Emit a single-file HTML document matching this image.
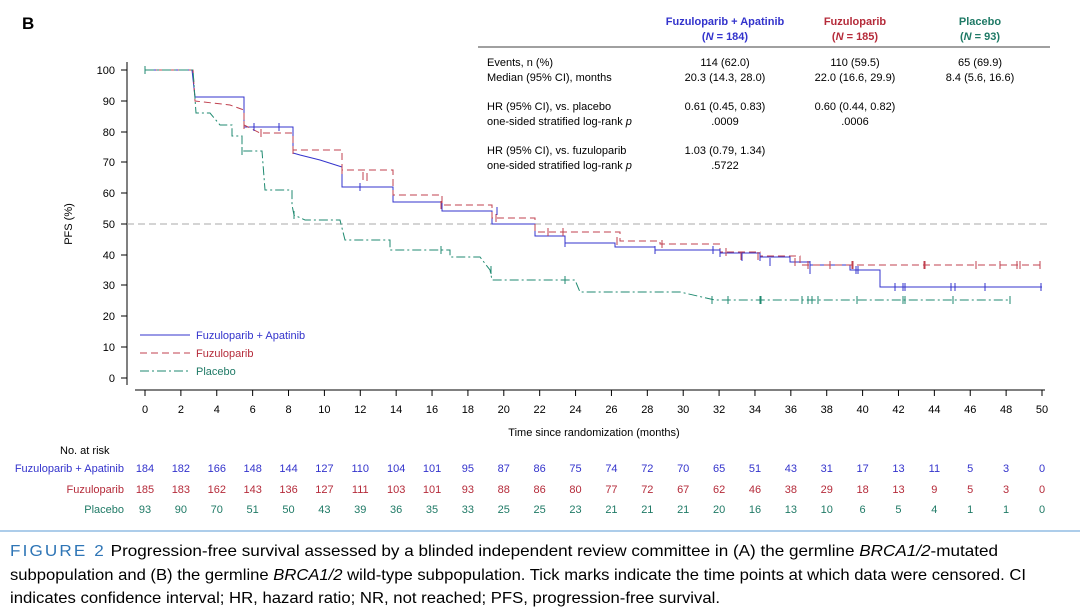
<html><body style="margin:0;background:#fff;width:1080px;height:614px;overflow:hidden;font-family:'Liberation Sans',Arial,sans-serif">
<svg width="1080" height="614" xmlns="http://www.w3.org/2000/svg" font-family="Liberation Sans, Arial, sans-serif">
<text x="22" y="29" font-size="17" font-weight="bold">B</text>
<g font-size="11" text-anchor="middle" font-weight="bold">
<text x="725" y="25" fill="#3333cc">Fuzuloparib + Apatinib</text><text x="725" y="40" fill="#3333cc">(<tspan font-style="italic">N</tspan> = 184)</text>
<text x="855" y="25" fill="#b52b3a">Fuzuloparib</text><text x="855" y="40" fill="#b52b3a">(<tspan font-style="italic">N</tspan> = 185)</text>
<text x="980" y="25" fill="#1f7a66">Placebo</text><text x="980" y="40" fill="#1f7a66">(<tspan font-style="italic">N</tspan> = 93)</text>
</g>
<line x1="478" y1="47" x2="1050" y2="47" stroke="#000" stroke-width="0.8"/>
<g font-size="11">
<text x="487" y="66">Events, n (%)</text><text x="487" y="81">Median (95% CI), months</text>
<text x="487" y="110">HR (95% CI), vs. placebo</text><text x="487" y="125">one-sided stratified log-rank <tspan font-style="italic">p</tspan></text>
<text x="487" y="154">HR (95% CI), vs. fuzuloparib</text><text x="487" y="169">one-sided stratified log-rank <tspan font-style="italic">p</tspan></text>
</g>
<g font-size="11" text-anchor="middle">
<text x="725" y="66">114 (62.0)</text><text x="725" y="81">20.3 (14.3, 28.0)</text>
<text x="725" y="110">0.61 (0.45, 0.83)</text><text x="725" y="125">.0009</text>
<text x="725" y="154">1.03 (0.79, 1.34)</text><text x="725" y="169">.5722</text>
<text x="855" y="66">110 (59.5)</text><text x="855" y="81">22.0 (16.6, 29.9)</text>
<text x="855" y="110">0.60 (0.44, 0.82)</text><text x="855" y="125">.0006</text>
<text x="980" y="66">65 (69.9)</text><text x="980" y="81">8.4 (5.6, 16.6)</text>
</g>
<line x1="127" y1="62" x2="127" y2="385" stroke="#000"/>
<line x1="135" y1="390" x2="1045" y2="390" stroke="#000"/>
<g font-size="11" text-anchor="end">
<text x="115" y="74">100</text><text x="115" y="105">90</text><text x="115" y="136">80</text><text x="115" y="166">70</text><text x="115" y="197">60</text><text x="115" y="228">50</text><text x="115" y="259">40</text><text x="115" y="289">30</text><text x="115" y="320">20</text><text x="115" y="351">10</text><text x="115" y="382">0</text>
</g>
<g stroke="#000"><line x1="121" y1="70" x2="127" y2="70"/><line x1="121" y1="101" x2="127" y2="101"/><line x1="121" y1="132" x2="127" y2="132"/><line x1="121" y1="162" x2="127" y2="162"/><line x1="121" y1="193" x2="127" y2="193"/><line x1="121" y1="224" x2="127" y2="224"/><line x1="121" y1="255" x2="127" y2="255"/><line x1="121" y1="285" x2="127" y2="285"/><line x1="121" y1="316" x2="127" y2="316"/><line x1="121" y1="347" x2="127" y2="347"/><line x1="121" y1="378" x2="127" y2="378"/></g>
<text transform="translate(72,224) rotate(-90)" font-size="11" text-anchor="middle">PFS (%)</text>
<g id="xt" font-size="11" text-anchor="middle"></g>
<text x="594" y="436" font-size="11" text-anchor="middle">Time since randomization (months)</text>
<line x1="127" y1="224" x2="1050" y2="224" stroke="#aaa" stroke-dasharray="7,4"/>
<polyline fill="none" stroke="#3333cc" stroke-width="1" points="145,70 192,70 195,97 244,97 244,127 293,127 293,153 300,155 320,160 342,167 342,187 393,187 393,202 442,202 442,211 492,211 492,224 535,224 535,236 565,236 565,243 615,243 615,247 655,247 655,250 720,250 720,253 760,253 760,257 790,257 790,262 810,262 810,265 850,265 850,270 880,270 880,287 1042,287"/>
<polyline fill="none" stroke="#c0404f" stroke-width="1" stroke-dasharray="7,4" points="145,70 193,70 195,101 230,105 244,110 244,125 260,133 293,133 293,150 342,150 342,170 393,170 393,195 442,195 442,205 492,205 492,218 535,218 535,232 620,232 620,241 660,241 660,244 720,244 720,252 760,252 760,256 800,256 800,265 1042,265"/>
<polyline fill="none" stroke="#1f8a70" stroke-width="1" stroke-dasharray="9,3,2,3" points="145,70 193,70 196,113 210,113 220,125 232,125 232,136 242,136 242,151 262,151 265,190 292,190 292,205 294,215 305,220 340,220 345,240 390,240 390,250 450,250 450,257 480,257 490,270 492,280 575,280 580,292 680,292 715,300 1010,300"/>
<g stroke="#3333cc" stroke-width="1" id="cb"></g>
<g stroke="#c0404f" stroke-width="1" id="cr"></g>
<g stroke="#1f8a70" stroke-width="1" id="cg"></g>
<line x1="140" y1="335" x2="190" y2="335" stroke="#3333cc"/><text x="196" y="339" font-size="11" fill="#3333cc">Fuzuloparib + Apatinib</text>
<line x1="140" y1="353" x2="190" y2="353" stroke="#c0404f" stroke-dasharray="7,4"/><text x="196" y="357" font-size="11" fill="#b52b3a">Fuzuloparib</text>
<line x1="140" y1="371" x2="190" y2="371" stroke="#1f8a70" stroke-dasharray="9,3,2,3"/><text x="196" y="375" font-size="11" fill="#1f7a66">Placebo</text>
<text x="60" y="454" font-size="11">No. at risk</text>
<text x="124" y="472" font-size="11" text-anchor="end" fill="#3333cc">Fuzuloparib + Apatinib</text>
<text x="124" y="493" font-size="11" text-anchor="end" fill="#b52b3a">Fuzuloparib</text>
<text x="124" y="513" font-size="11" text-anchor="end" fill="#1f7a66">Placebo</text>
<g id="rb" font-size="11" text-anchor="middle" fill="#3333cc"></g>
<g id="rr" font-size="11" text-anchor="middle" fill="#b52b3a"></g>
<g id="rg" font-size="11" text-anchor="middle" fill="#1f7a66"></g>
<line x1="0" y1="531" x2="1080" y2="531" stroke="#5b9bd5" stroke-width="1"/>
<text x="10" y="556" font-size="16" textLength="988" lengthAdjust="spacingAndGlyphs"><tspan fill="#2e75b6" letter-spacing="2">FIGURE 2</tspan>   Progression-free survival assessed by a blinded independent review committee in (A) the germline <tspan font-style="italic">BRCA1/2</tspan>-mutated</text>
<text x="10" y="580" font-size="16" textLength="1016" lengthAdjust="spacingAndGlyphs">subpopulation and (B) the germline <tspan font-style="italic">BRCA1/2</tspan> wild-type subpopulation. Tick marks indicate the time points at which data were censored. CI</text>
<text x="10" y="603" font-size="16" textLength="710" lengthAdjust="spacingAndGlyphs">indicates confidence interval; HR, hazard ratio; NR, not reached; PFS, progression-free survival.</text>
</svg>
<script>
const NS="http://www.w3.org/2000/svg";
function X(m){return 145+m*17.94}
function el(g,t,a,txt){const e=document.createElementNS(NS,t);for(const k in a)e.setAttribute(k,a[k]);if(txt!==undefined)e.textContent=txt;document.getElementById(g).appendChild(e);}
const svg=document.querySelector('svg');
for(let m=0;m<=50;m+=2){el('xt','text',{x:X(m),y:413},m);const l=document.createElementNS(NS,'line');l.setAttribute('x1',X(m));l.setAttribute('x2',X(m));l.setAttribute('y1',390);l.setAttribute('y2',396);l.setAttribute('stroke','#000');svg.appendChild(l);}
const b=[184,182,166,148,144,127,110,104,101,95,87,86,75,74,72,70,65,51,43,31,17,13,11,5,3,0];
const r=[185,183,162,143,136,127,111,103,101,93,88,86,80,77,72,67,62,46,38,29,18,13,9,5,3,0];
const g=[93,90,70,51,50,43,39,36,35,33,25,25,23,21,21,21,20,16,13,10,6,5,4,1,1,0];
b.forEach((v,i)=>el('rb','text',{x:X(i*2),y:472},v));
r.forEach((v,i)=>el('rr','text',{x:X(i*2),y:493},v));
g.forEach((v,i)=>el('rg','text',{x:X(i*2),y:513},v));
function ticks(id,pts){pts.forEach(p=>el(id,'line',{x1:p[0],x2:p[0],y1:p[1]-4,y2:p[1]+4}));}
ticks('cb',[[254,127],[279,127],[360,187],[497,211],[565,243],[655,250],[713,250],[720,253],[742,257],[760,257],[770,262],[810,265],[810,270],[856,270],[858,270],[895,287],[903,287],[905,287],[951,287],[955,287],[985,287],[1041,287]]);
ticks('cr',[[244,125],[261,133],[293,150],[342,170],[363,176],[367,177],[441,205],[496,218],[548,232],[563,232],[617,241],[662,244],[726,252],[741,256],[758,256],[795,262],[808,265],[830,265],[852,265],[853,265],[924,265],[925,265],[976,265],[1000,265],[1017,265],[1020,265],[1040,265]]);
ticks('cg',[[145,70],[242,151],[294,215],[441,250],[491,270],[565,280],[712,300],[728,300],[760,300],[761,300],[802,300],[808,300],[812,300],[818,300],[857,300],[903,300],[905,300],[953,300],[1010,300]]);
</script>
</body></html>
